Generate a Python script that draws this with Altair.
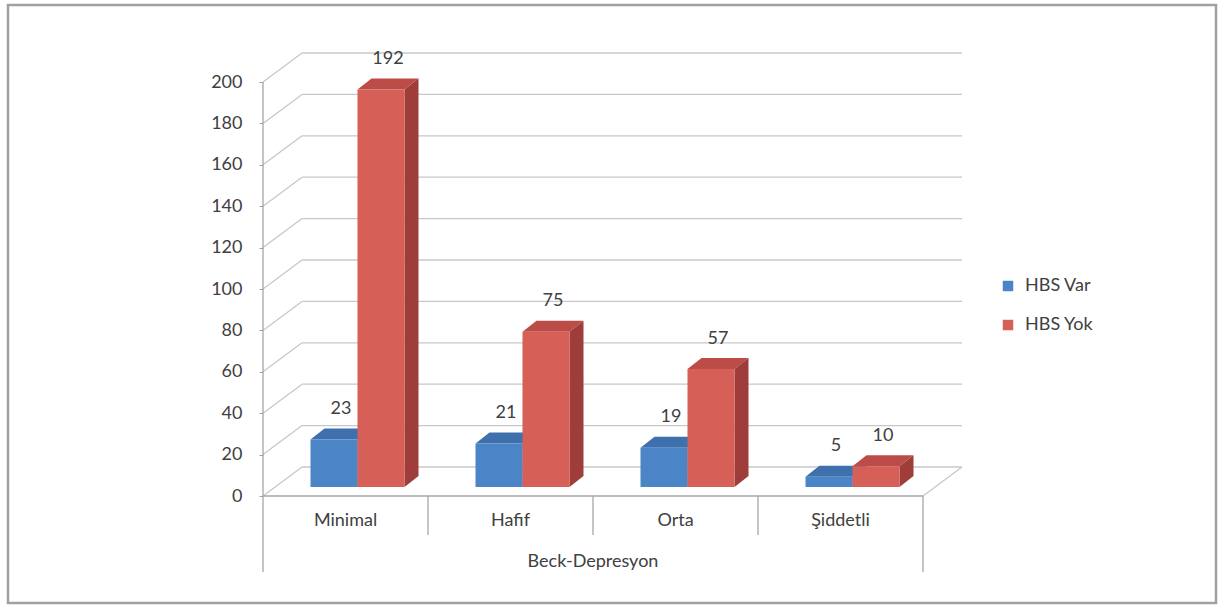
import altair as alt
import pandas as pd

# ---- chart data -------------------------------------------------------------
categories = ["Minimal", "Hafif", "Orta", "Şiddetli"]
series = ["HBS Var", "HBS Yok"]
hbs_var = [23, 21, 19, 5]
hbs_yok = [192, 75, 57, 10]
y_ticks = [0, 20, 40, 60, 80, 100, 120, 140, 160, 180, 200]
x_title = "Beck-Depresyon"

# ---- layout of the pseudo-3D box ------------------------------------------
# x runs in category slots (one slot per category), y in data units.
PX_X = 165.0          # pixels per category slot
PX_Y = 2.07           # pixels per data unit
WALL_DX = 39 / PX_X   # floor depth (front edge -> back wall)
WALL_DY = 29 / PX_Y
BAR_FX = 12 / PX_X    # boxes stand a little behind the front edge
BAR_FY = 9 / PX_Y
BAR_DX = 14 / PX_X    # depth of each box
BAR_DY = 11 / PX_Y
BAR_W = 47 / PX_X
GAP = (1 - 2 * BAR_W) / 2
N = len(categories)
X_END = N + WALL_DX
LOW_TICK = -39 / PX_Y     # category separators below the floor
LOW_FRAME = -76 / PX_Y    # outer separators

W, H = 1208, 598
X_DOM = [(8 - 263) / PX_X, (1216 - 263) / PX_X]
Y_DOM = [-(603 - 496) / PX_Y, (496 - 5) / PX_Y]

FRONT = {"HBS Var": "#4C85C6", "HBS Yok": "#D65F57"}
TOP = {"HBS Var": "#3E70AE", "HBS Yok": "#BC4C47"}
SIDE = {"HBS Var": "#2F5A8F", "HBS Yok": "#9E3D39"}
TEXT = "#404040"
FONT = "Lato"

values = {"HBS Var": hbs_var, "HBS Yok": hbs_yok}

fronts, tops, sides, labels = [], [], [], []
for ci, cat in enumerate(categories):
    for si, s in enumerate(series):
        v = values[s][ci]
        bar = f"{cat}-{s}"
        x0 = ci + GAP + si * BAR_W + BAR_FX
        x1 = x0 + BAR_W
        base = BAR_FY
        h = v + BAR_FY
        fronts.append({"x": x0, "x2": x1, "y": base, "y2": h, "series": s})
        for x, lo, hi in [(x0, h, h), (x0 + BAR_DX, h, h + BAR_DY),
                          (x1, h, h + BAR_DY), (x1 + BAR_DX, h + BAR_DY, h + BAR_DY)]:
            tops.append({"bar": bar, "x": x, "y": lo, "y2": hi, "fill": TOP[s]})
        for x, lo, hi in [(x1, base, h), (x1 + BAR_DX, base + BAR_DY, h + BAR_DY)]:
            sides.append({"bar": bar, "x": x, "y": lo, "y2": hi, "fill": SIDE[s]})
        labels.append({"x": (x0 + x1) / 2 + BAR_DX / 2, "y": h + BAR_DY + 5, "text": str(v)})

grid = []
for t in y_ticks:
    grid.append({"x": 0, "x2": WALL_DX, "y": t, "y2": t + WALL_DY})
    grid.append({"x": WALL_DX, "x2": X_END, "y": t + WALL_DY, "y2": t + WALL_DY})
grid.append({"x": N, "x2": X_END, "y": 0, "y2": WALL_DY})

frame = [
    {"x": 0, "x2": 0, "y": LOW_FRAME, "y2": y_ticks[-1]},
    {"x": 0, "x2": N, "y": 0, "y2": 0},
    {"x": N, "x2": N, "y": LOW_FRAME, "y2": 0},
]
for i in range(1, N):
    frame.append({"x": i, "x2": i, "y": LOW_TICK, "y2": 0})

cat_text = [{"x": i + 0.5, "y": -25 / PX_Y, "text": c} for i, c in enumerate(categories)]
title_text = [{"x": N / 2, "y": -66 / PX_Y, "text": x_title}]


def X():
    return alt.X("x:Q", scale=alt.Scale(domain=X_DOM, nice=False, zero=False), axis=None)


def Y():
    return alt.Y(
        "y:Q",
        scale=alt.Scale(domain=Y_DOM, nice=False, zero=False),
        axis=alt.Axis(values=y_ticks, offset=-255, domain=False, grid=False,
                      tickSize=4, tickColor="#A0A0A0", labelPadding=17,
                      labelFont=FONT, labelFontSize=18, labelColor=TEXT, title=None),
    )


grid_layer = alt.Chart(pd.DataFrame(grid)).mark_rule(color="#C8C8C8", strokeWidth=1.3).encode(
    x=X(), x2="x2:Q", y=Y(), y2="y2:Q")
frame_layer = alt.Chart(pd.DataFrame(frame)).mark_rule(color="#A6A6A6", strokeWidth=1.3).encode(
    x=X(), x2="x2:Q", y=Y(), y2="y2:Q")

top_layer = alt.Chart(pd.DataFrame(tops)).mark_area(interpolate="linear", opacity=1).encode(
    x=X(), y=Y(), y2="y2:Q", detail="bar:N", fill=alt.Fill("fill:N", scale=None))
side_layer = alt.Chart(pd.DataFrame(sides)).mark_area(interpolate="linear", opacity=1).encode(
    x=X(), y=Y(), y2="y2:Q", detail="bar:N", fill=alt.Fill("fill:N", scale=None))

front_layer = alt.Chart(pd.DataFrame(fronts)).mark_rect(opacity=1).encode(
    x=X(), x2="x2:Q", y=Y(), y2="y2:Q",
    color=alt.Color(
        "series:N",
        scale=alt.Scale(domain=series, range=[FRONT[s] for s in series]),
        legend=alt.Legend(orient="none", legendX=991, legendY=272, title=None,
                          symbolType="square", symbolSize=110, symbolStrokeWidth=0,
                          labelFont=FONT, labelFontSize=18, labelColor=TEXT,
                          labelOffset=8, rowPadding=21, padding=0),
    ),
)

value_layer = alt.Chart(pd.DataFrame(labels)).mark_text(
    baseline="bottom", font=FONT, fontSize=18, color=TEXT).encode(x=X(), y=Y(), text="text:N")
cat_layer = alt.Chart(pd.DataFrame(cat_text)).mark_text(
    baseline="middle", font=FONT, fontSize=18, color=TEXT).encode(x=X(), y=Y(), text="text:N")
title_layer = alt.Chart(pd.DataFrame(title_text)).mark_text(
    baseline="middle", font=FONT, fontSize=18, color=TEXT).encode(x=X(), y=Y(), text="text:N")

chart = (
    alt.layer(grid_layer, frame_layer, top_layer, side_layer, front_layer,
              value_layer, cat_layer, title_layer)
    .properties(width=W, height=H, autosize=alt.AutoSizeParams(type="none"),
                padding={"left": 8, "top": 5, "right": 3, "bottom": 3}, background="white")
    .configure_view(stroke="#A0A0A0", strokeWidth=2.5)
)

chart.save("out.html", embed_options={"renderer": "svg", "actions": False})
